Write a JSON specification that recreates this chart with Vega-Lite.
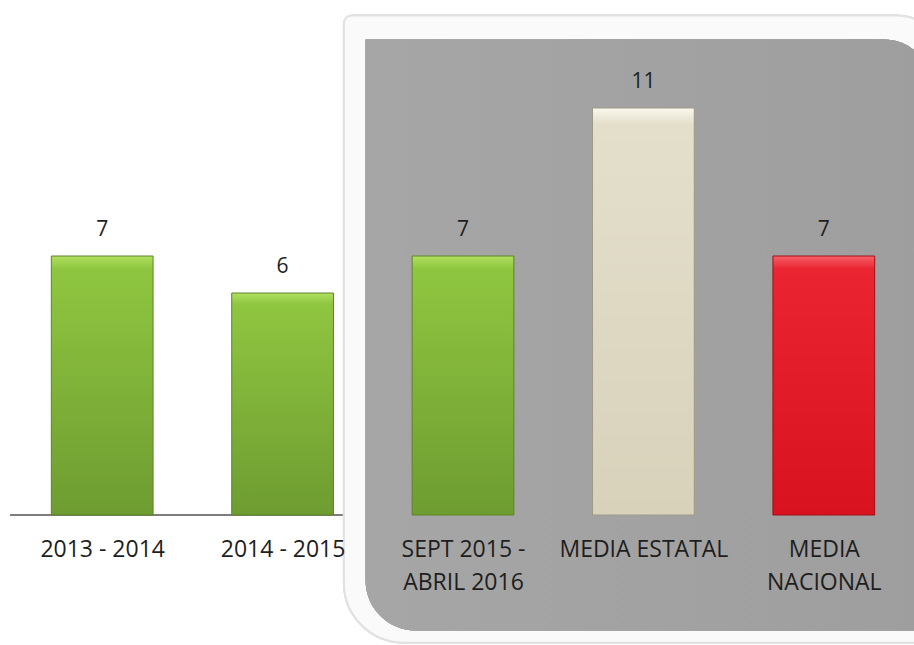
{
  "$schema": "https://vega.github.io/schema/vega-lite/v6.json",
  "width": 902,
  "height": 481,
  "autosize": {"type": "none"},
  "padding": {"left": 12, "top": 34, "right": 0, "bottom": 130},
  "background": "#ffffff",
  "config": {"view": {"stroke": null}, "font": "Open Sans"},
  "data": {
    "values": [
      {"periodo": "2013 - 2014", "valor": 7, "grupo": "verde"},
      {"periodo": "2014 - 2015", "valor": 6, "grupo": "verde"},
      {"periodo": "SEPT 2015 - ABRIL 2016", "valor": 7, "grupo": "verde"},
      {"periodo": "MEDIA ESTATAL", "valor": 11, "grupo": "estatal"},
      {"periodo": "MEDIA NACIONAL", "valor": 7, "grupo": "nacional"}
    ]
  },
  "resolve": {"scale": {"x": "independent"}},
  "layer": [
    {
      "mark": {"type": "rule", "stroke": "#7a7a7a", "strokeWidth": 1.2},
      "encoding": {
        "x": {"datum": -0.01, "type": "quantitative", "scale": {"domain": [0, 5]}, "axis": null},
        "x2": {"datum": 2},
        "y": {"datum": 0, "type": "quantitative", "scale": {"domain": [0, 13]}, "axis": null}
      }
    },
    {
      "mark": {"type": "rect", "fill": "#fafafa", "stroke": "#e2e2e2", "strokeWidth": 2, "cornerRadiusTopRight": 55, "cornerRadiusBottomLeft": 60, "cornerRadiusTopLeft": 8},
      "encoding": {
        "x": {"datum": 1.84, "type": "quantitative", "scale": {"domain": [0, 5]}, "axis": null},
        "x2": {"datum": 5.2},
        "y": {"datum": 13.5, "type": "quantitative"},
        "y2": {"datum": -3.45}
      }
    },
    {
      "mark": {"type": "rect", "fill": {"gradient": "linear", "x1": 0, "y1": 0, "x2": 1, "y2": 0, "stops": [{"offset": 0, "color": "#a6a6a6"}, {"offset": 0.5, "color": "#a2a2a2"}, {"offset": 1, "color": "#9e9e9e"}]}, "cornerRadiusTopRight": 48, "cornerRadiusBottomLeft": 50},
      "encoding": {
        "x": {"datum": 1.96, "type": "quantitative", "scale": {"domain": [0, 5]}, "axis": null},
        "x2": {"datum": 5.1},
        "y": {"datum": 12.85, "type": "quantitative"},
        "y2": {"datum": -3.12}
      }
    },
    {
      "transform": [{"filter": "datum.grupo == 'verde'"}],
      "mark": {"type": "bar", "fill": {"gradient": "linear", "x1": 0, "y1": 0, "x2": 0, "y2": 1, "stops": [{"offset": 0, "color": "#b0e060"}, {"offset": 0.05, "color": "#8fc640"}, {"offset": 1, "color": "#6e9c31"}]}, "stroke": "#5e8427", "strokeWidth": 1},
      "encoding": {
        "x": {"field": "periodo", "type": "nominal", "sort": null, "scale": {"domain": ["2013 - 2014", "2014 - 2015", "SEPT 2015 - ABRIL 2016", "MEDIA ESTATAL", "MEDIA NACIONAL"], "paddingInner": 0.436, "paddingOuter": 0.218}, "axis": null},
        "y": {"field": "valor", "type": "quantitative"}
      }
    },
    {
      "transform": [{"filter": "datum.grupo == 'estatal'"}],
      "mark": {"type": "bar", "fill": {"gradient": "linear", "x1": 0, "y1": 0, "x2": 0, "y2": 1, "stops": [{"offset": 0, "color": "#faf8ee"}, {"offset": 0.04, "color": "#e4dfcb"}, {"offset": 1, "color": "#d8d2bb"}]}, "stroke": "#9e9a88", "strokeWidth": 1},
      "encoding": {
        "x": {"field": "periodo", "type": "nominal", "sort": null, "scale": {"domain": ["2013 - 2014", "2014 - 2015", "SEPT 2015 - ABRIL 2016", "MEDIA ESTATAL", "MEDIA NACIONAL"], "paddingInner": 0.436, "paddingOuter": 0.218}, "axis": null},
        "y": {"field": "valor", "type": "quantitative"}
      }
    },
    {
      "transform": [{"filter": "datum.grupo == 'nacional'"}],
      "mark": {"type": "bar", "fill": {"gradient": "linear", "x1": 0, "y1": 0, "x2": 0, "y2": 1, "stops": [{"offset": 0, "color": "#f76068"}, {"offset": 0.05, "color": "#ea2430"}, {"offset": 1, "color": "#d8121e"}]}, "stroke": "#a01018", "strokeWidth": 1},
      "encoding": {
        "x": {"field": "periodo", "type": "nominal", "sort": null, "scale": {"domain": ["2013 - 2014", "2014 - 2015", "SEPT 2015 - ABRIL 2016", "MEDIA ESTATAL", "MEDIA NACIONAL"], "paddingInner": 0.436, "paddingOuter": 0.218}, "axis": null},
        "y": {"field": "valor", "type": "quantitative"}
      }
    },
    {
      "mark": {"type": "text", "dy": -16, "fontSize": 21, "color": "#1e1e1e", "baseline": "bottom"},
      "encoding": {
        "x": {"field": "periodo", "type": "nominal", "sort": null, "scale": {"domain": ["2013 - 2014", "2014 - 2015", "SEPT 2015 - ABRIL 2016", "MEDIA ESTATAL", "MEDIA NACIONAL"], "paddingInner": 0.436, "paddingOuter": 0.218},
          "axis": {"title": null, "orient": "bottom", "domain": false, "ticks": false, "labelPadding": 23, "labelFontSize": 23, "labelColor": "#1e1e1e", "labelAngle": 0, "labelLineHeight": 33, "labelBaseline": "top", "zindex": 2,
            "labelExpr": "datum.label == 'SEPT 2015 - ABRIL 2016' ? ['SEPT 2015 -', 'ABRIL 2016'] : datum.label == 'MEDIA NACIONAL' ? ['MEDIA', 'NACIONAL'] : datum.label"}},
        "y": {"field": "valor", "type": "quantitative"},
        "text": {"field": "valor", "type": "quantitative"}
      }
    }
  ]
}
